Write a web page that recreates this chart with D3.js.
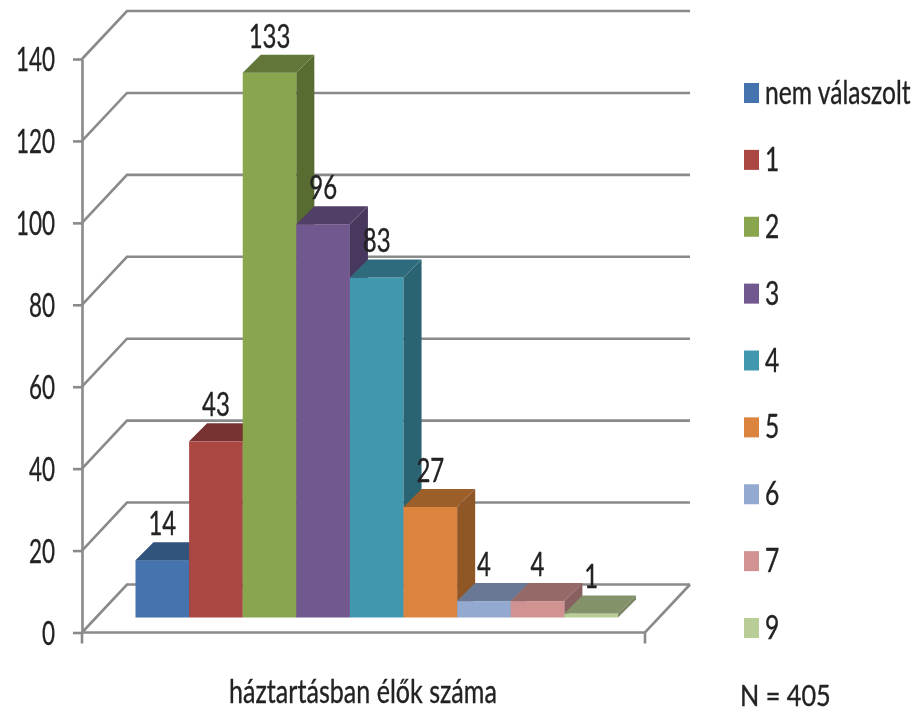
<!DOCTYPE html>
<html lang="en">
  <head>
    <meta charset="utf-8">
    <title>háztartásban élők száma</title>
    <script src="https://d3js.org/d3.v7.min.js"></script>
    <style>
      html, body { margin: 0; padding: 0; background: #fff; }
      svg { display: block; }
      text { font-family: Lato, "Open Sans", sans-serif; fill: #222; stroke: #222; stroke-width: 0.35px; }
    </style>
  </head>
  <body>
    <script>
      var categories = ["nem válaszolt", "1", "2", "3", "4", "5", "6", "7", "9"];
      var values = [14, 43, 133, 96, 83, 27, 4, 4, 1];
      var yTicks = [0, 20, 40, 60, 80, 100, 120, 140];
      var palette = ["#4473ad", "#aa4643", "#89a54e", "#71588f", "#4198af", "#db843d", "#93a9cf", "#d19392", "#b9cd96"];
      var axisTitle = "háztartásban élők száma";
      var note = "N = 405";

      var width = 917;
      var height = 712;
      var lineColor = "#8a8a8a";

      // 3d offsets: wall sits behind the axis, bars stand in the middle of the floor
      var wall = {dx: 45, dy: -48};
      var depth = {dx: 18, dy: -18};
      var barLift = 15;
      var wallRight = 690;
      var floorRight = 645;

      var svg = d3.select("body")
        .append("svg")
        .attr("width", width)
        .attr("height", height);

      // the reference is a soft, upscaled image
      svg.append("filter")
        .attr("id", "soft")
        .append("feGaussianBlur")
        .attr("stdDeviation", 0.55);

      var root = svg.append("g").attr("filter", "url(#soft)");

      var y = d3.scaleLinear().domain([0, 140]).range([632.5, 59]);
      var x = d3.scaleBand().domain(categories).range([135.5, 618]);
      var legendY = d3.scalePoint().domain(categories).range([93, 628]);

      // wall grid lines
      var grid = root.append("g")
        .attr("fill", "none")
        .attr("stroke", lineColor)
        .attr("stroke-width", 2.6);

      grid.selectAll("path")
        .data(yTicks)
        .enter()
        .append("path")
        .attr("d", function(d) {
          var p = d3.path();
          p.moveTo(x0(), y(d));
          p.lineTo(x0() + wall.dx, y(d) + wall.dy);
          p.lineTo(wallRight, y(d) + wall.dy);
          return p.toString();
        });

      function x0() { return 82; }

      // floor front edge
      var floor = d3.path();
      floor.moveTo(x0(), y(0));
      floor.lineTo(floorRight, y(0));
      floor.lineTo(wallRight, y(0) + wall.dy);
      floor.moveTo(floorRight, y(0));
      floor.lineTo(floorRight, y(0) + 11);
      grid.append("path").attr("d", floor.toString());

      // value axis
      var axis = root.append("g")
        .attr("transform", "translate(" + x0() + ",0)")
        .call(d3.axisLeft(y).tickValues(yTicks).tickSize(9).tickSizeOuter(0));

      axis.select(".domain")
        .attr("stroke", lineColor)
        .attr("stroke-width", 2.6);
      axis.append("line")
        .attr("y1", y(0))
        .attr("y2", y(0) + 11)
        .attr("stroke", lineColor)
        .attr("stroke-width", 2.6);
      axis.selectAll(".tick line")
        .attr("stroke", lineColor)
        .attr("stroke-width", 2.6);
      axis.selectAll(".tick text")
        .attr("x", 0)
        .attr("dy", "0.36em")
        .attr("transform", "translate(-27,0) scale(0.68,1)")
        .style("font-size", "33px")
        .style("font-family", "Lato")
        .attr("fill", "#222");

      // bars, drawn left to right so each one covers the side of the previous
      var bars = root.selectAll(".bar")
        .data(categories.map(function(c, i) { return {cat: c, value: values[i], color: palette[i]}; }))
        .enter()
        .append("g")
        .attr("class", "bar");

      function barBase() { return y(0) - barLift; }
      function barTop(d) { return barBase() - (y(0) - y(d.value)); }

      bars.append("rect")
        .attr("x", function(d) { return x(d.cat); })
        .attr("y", barTop)
        .attr("width", x.bandwidth())
        .attr("height", function(d) { return barBase() - barTop(d); })
        .attr("fill", function(d) { return d.color; });

      // top face
      bars.append("path")
        .attr("fill", function(d) { return d3.color(d.color).darker(0.95); })
        .attr("d", function(d) {
          var l = x(d.cat), r = l + x.bandwidth(), t = barTop(d);
          return "M" + l + "," + t + "L" + (l + depth.dx) + "," + (t + depth.dy) +
            "L" + (r + depth.dx) + "," + (t + depth.dy) + "L" + r + "," + t + "Z";
        });

      // side face
      bars.append("path")
        .attr("fill", function(d) { return d3.color(d.color).darker(1.2); })
        .attr("d", function(d) {
          var r = x(d.cat) + x.bandwidth(), t = barTop(d), b = barBase();
          return "M" + r + "," + t + "L" + (r + depth.dx) + "," + (t + depth.dy) +
            "L" + (r + depth.dx) + "," + (b + depth.dy) + "L" + r + "," + b + "Z";
        });

      // value labels
      root.selectAll(".value")
        .data(categories.map(function(c, i) { return {cat: c, value: values[i]}; }))
        .enter()
        .append("text")
        .attr("class", "value")
        .attr("text-anchor", "middle")
        .attr("transform", function(d) {
          return "translate(" + (x(d.cat) + x.bandwidth() / 2) + "," + (barTop(d) - 25) + ") scale(0.75,1)";
        })
        .style("font-size", "32px")
        .text(function(d) { return d.value; });

      // legend
      var legend = root.selectAll(".legend")
        .data(categories)
        .enter()
        .append("g")
        .attr("class", "legend")
        .attr("transform", function(d) { return "translate(744," + legendY(d) + ")"; });

      legend.append("rect")
        .attr("y", -10)
        .attr("width", 15)
        .attr("height", 20)
        .attr("fill", function(d, i) { return palette[i]; });

      legend.append("text")
        .attr("transform", "translate(21,11) scale(0.77,1)")
        .style("font-size", "32px")
        .text(function(d) { return d; });

      // titles
      root.append("text")
        .attr("text-anchor", "middle")
        .attr("transform", "translate(363,703) scale(0.76,1)")
        .style("font-size", "33px")
        .text(axisTitle);

      root.append("text")
        .attr("transform", "translate(740,706) scale(0.87,1)")
        .style("font-size", "29px")
        .text(note);
    </script>
  </body>
</html>
